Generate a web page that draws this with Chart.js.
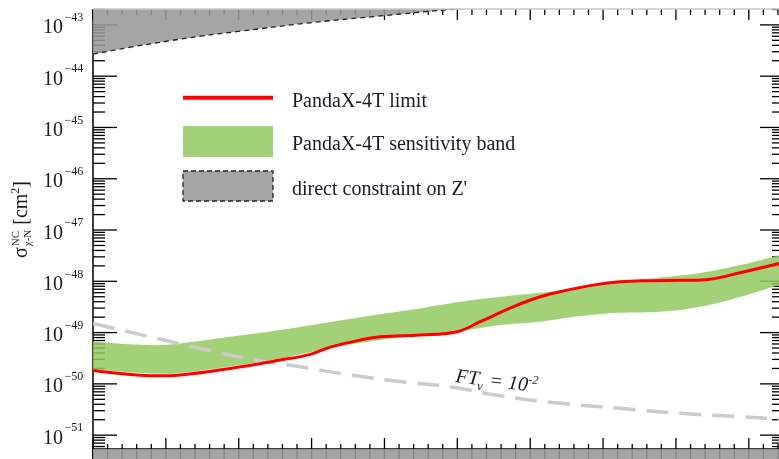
<!DOCTYPE html>
<html>
<head>
<meta charset="utf-8">
<script src="https://cdn.jsdelivr.net/npm/chart.js@4.4.1/dist/chart.umd.min.js"></script>
<style>
html, body { margin: 0; padding: 0; overflow: hidden; background: #fff; }
</style>
</head>
<body>
<canvas id="chart" width="790" height="459"></canvas>
<script>
// values: x in major-tick units, y in cm^2
const limitX = [0, 0.374, 0.786, 1.198, 1.884, 2.570, 2.981, 3.256, 3.667, 3.941, 4.490, 4.997, 5.313, 5.765, 6.136, 6.506, 6.863, 7.233, 7.645, 8.056, 8.468, 8.879, 9.414, 9.483];
const limitY = [1.82e-50, 1.59e-50, 1.44e-50, 1.49e-50, 2.00e-50, 2.91e-50, 3.76e-50, 5.21e-50, 7.15e-50, 8.28e-50, 8.93e-50, 1.04e-49, 1.63e-49, 3.18e-49, 4.99e-49, 6.73e-49, 8.43e-49, 9.77e-49, 1.03e-48, 1.05e-48, 1.10e-48, 1.47e-48, 2.23e-48, 2.42e-48];

const bandX = [0, 0.786, 1.198, 1.884, 2.570, 3.255, 3.941, 4.490, 5.038, 5.587, 6.136, 6.685, 7.233, 7.782, 8.331, 8.879, 9.414, 9.483];
const bandUpper = [6.62e-50, 5.70e-50, 6.15e-50, 8.28e-50, 1.12e-49, 1.60e-49, 2.29e-49, 2.96e-49, 3.98e-49, 4.99e-49, 5.97e-49, 7.53e-49, 9.64e-49, 1.18e-48, 1.45e-48, 2.07e-48, 3.24e-48, 3.47e-48];
const bandLower = [1.90e-50, 1.59e-50, 1.63e-50, 2.17e-50, 3.11e-50, 4.99e-50, 7.14e-50, 8.75e-50, 1.07e-49, 1.40e-49, 1.63e-49, 2.10e-49, 2.43e-49, 2.54e-49, 3.18e-49, 4.92e-49, 8.43e-49, 9.02e-49];

const ftX = [0, 0.786, 1.472, 2.158, 2.844, 3.530, 4.215, 4.901, 5.587, 6.410, 7.233, 8.056, 8.879, 9.483];
const ftY = [1.50e-49, 8.28e-50, 4.92e-50, 3.04e-50, 2.15e-50, 1.49e-50, 1.11e-50, 8.77e-51, 5.86e-51, 4.17e-51, 3.33e-51, 2.66e-51, 2.29e-51, 2.01e-51];

const zpX = [0, 0.512, 1.060, 1.472, 2.021, 2.981, 3.982, 4.805, 5.587];
const zpY = [2.69e-44, 3.67e-44, 4.92e-44, 6.03e-44, 7.53e-44, 1.10e-43, 1.51e-43, 1.94e-43, 2.32e-43];

const yDecades = [-51, -50, -49, -48, -47, -46, -45, -44, -43];
const legendLabels = ['PandaX-4T limit', 'PandaX-4T sensitivity band', "direct constraint on Z'"];

const SERIF = "'Liberation Serif', 'DejaVu Serif', serif";
const GREEN = 'rgba(147,201,95,0.85)';
const GREY = 'rgba(153,153,153,0.88)';

function pts(xs, ys) {
    return xs.map((x, i) => ({ x: x, y: ys[i] }));
}

function seg(ctx, x1, y1, x2, y2) {
    ctx.beginPath();
    ctx.moveTo(x1, y1);
    ctx.lineTo(x2, y2);
    ctx.stroke();
}

// ticks, axes and the grey strip under the bottom axis
const framePlugin = {
    id: 'frame',
    beforeDatasetsDraw(chart) {
        const { ctx, chartArea: a } = chart;
        const x = chart.scales.x, y = chart.scales.y;
        ctx.save();
        ctx.strokeStyle = '#000';
        ctx.lineWidth = 1.3;
        for (let e = -52; e <= -42; e++) {
            for (let m = 1; m <= 9; m++) {
                const py = y.getPixelForValue(m * Math.pow(10, e));
                if (py < a.top || py > a.bottom) continue;
                const len = m === 1 ? 24 : 12;
                seg(ctx, a.left, py, a.left + len, py);
                seg(ctx, a.right, py, a.right - len, py);
            }
        }
        for (let i = 0; i <= 50; i++) {
            const px = x.getPixelForValue(i * 0.2);
            if (px > a.right + 0.5) break;
            const major = i % 5 === 0;
            seg(ctx, px, a.top, px, a.top + (major ? 11 : 6));
            seg(ctx, px, chart.height, px, a.bottom - (major ? 11 : 5));
        }
        ctx.lineWidth = 1.5;
        seg(ctx, a.left, a.top, a.left, chart.height);
        seg(ctx, a.left, a.bottom, a.right, a.bottom);
        ctx.fillStyle = GREY;
        ctx.fillRect(a.left, a.bottom, a.right - a.left, chart.height - a.bottom);
        ctx.restore();
    },
    afterDraw(chart) {
        const { ctx, chartArea: a } = chart;
        const y = chart.scales.y;
        ctx.save();
        ctx.strokeStyle = '#c8c8c8';
        ctx.lineWidth = 1.5;
        seg(ctx, a.left, a.top, a.right, a.top);

        // tick labels 10^n
        ctx.fillStyle = '#1a1a1a';
        ctx.textBaseline = 'alphabetic';
        yDecades.forEach(e => {
            const py = y.getPixelForValue(Math.pow(10, e));
            ctx.font = '20px ' + SERIF;
            ctx.fillText('10', 43, py + 8.6);
            ctx.font = '12px ' + SERIF;
            ctx.fillText('\u2212' + (-e), 64.5, py - 3.7);
        });

        // y title
        ctx.save();
        ctx.translate(27, 258);
        ctx.rotate(-Math.PI / 2);
        ctx.font = '20px ' + SERIF;
        ctx.fillText('\u03c3', 0, 0);
        let w = ctx.measureText('\u03c3').width + 1;
        ctx.font = '11px ' + SERIF;
        ctx.fillText('NC', w, -8);
        ctx.fillText('\u03c7-N', w, 4);
        w += Math.max(ctx.measureText('NC').width, ctx.measureText('\u03c7-N').width) + 5;
        ctx.font = '20px ' + SERIF;
        ctx.fillText('[cm', w, 0);
        w += ctx.measureText('[cm').width;
        ctx.font = '12px ' + SERIF;
        ctx.fillText('2', w, -8);
        w += ctx.measureText('2').width;
        ctx.font = '20px ' + SERIF;
        ctx.fillText(']', w, 0);
        ctx.restore();

        // legend
        ctx.strokeStyle = '#ff0000';
        ctx.lineWidth = 4;
        seg(ctx, 183, 97.7, 273, 97.7);
        ctx.fillStyle = 'rgb(163,209,119)';
        ctx.fillRect(183, 126, 90, 31);
        ctx.fillStyle = GREY;
        ctx.fillRect(183, 171, 90, 30);
        ctx.strokeStyle = '#222';
        ctx.lineWidth = 1.3;
        ctx.setLineDash([5, 3]);
        ctx.strokeRect(183, 171, 90, 30);
        ctx.setLineDash([]);
        ctx.fillStyle = '#1a1a2a';
        ctx.font = '20px ' + SERIF;
        ctx.fillText(legendLabels[0], 292, 106.5);
        ctx.fillText(legendLabels[1], 292, 150);
        ctx.fillText(legendLabels[2], 292, 195);

        // FT_nu = 10^-2 along the grey dashed curve
        ctx.save();
        ctx.translate(455, 382);
        ctx.rotate(7 * Math.PI / 180);
        ctx.font = 'italic 20px ' + SERIF;
        ctx.fillText('FT', 0, 0);
        let t = ctx.measureText('FT').width;
        ctx.font = 'italic 13px ' + SERIF;
        ctx.fillText('\u03bd', t - 1, 5);
        t += ctx.measureText('\u03bd').width + 5;
        ctx.font = 'italic 20px ' + SERIF;
        ctx.fillText('= 10', t, 0);
        t += ctx.measureText('= 10').width;
        ctx.font = 'italic 12px ' + SERIF;
        ctx.fillText('-2', t, -8);
        ctx.restore();

        ctx.restore();
    }
};

new Chart(document.getElementById('chart'), {
    type: 'line',
    data: {
        datasets: [
            { label: legendLabels[0], data: pts(limitX, limitY), borderColor: '#ff0000', borderWidth: 3, fill: false, order: 1 },
            { label: 'FT = 1e-2', data: pts(ftX, ftY), borderColor: '#cbcbcb', borderWidth: 3.5, borderDash: [22, 11], fill: false, order: 2 },
            { label: legendLabels[1], data: pts(bandX, bandUpper), borderColor: 'transparent', borderWidth: 0, backgroundColor: GREEN, fill: '+1', order: 3 },
            { label: 'band lower', data: pts(bandX, bandLower), borderColor: 'transparent', borderWidth: 0, fill: false, order: 4 },
            { label: legendLabels[2], data: pts(zpX, zpY), borderColor: '#222', borderWidth: 1.3, borderDash: [5, 4], backgroundColor: GREY, fill: 'end', order: 5 }
        ]
    },
    options: {
        responsive: false,
        animation: false,
        layout: { padding: { left: 93, right: 6, top: 9, bottom: 10 } },
        elements: {
            point: { radius: 0 },
            line: { tension: 0.4 }
        },
        scales: {
            x: { type: 'linear', min: 0, max: 9.483, display: false },
            y: { type: 'logarithmic', min: Math.pow(10, -51.27), max: Math.pow(10, -42.69), display: false }
        },
        plugins: {
            legend: { display: false },
            tooltip: { enabled: false }
        }
    },
    plugins: [framePlugin]
});
</script>
</body>
</html>
